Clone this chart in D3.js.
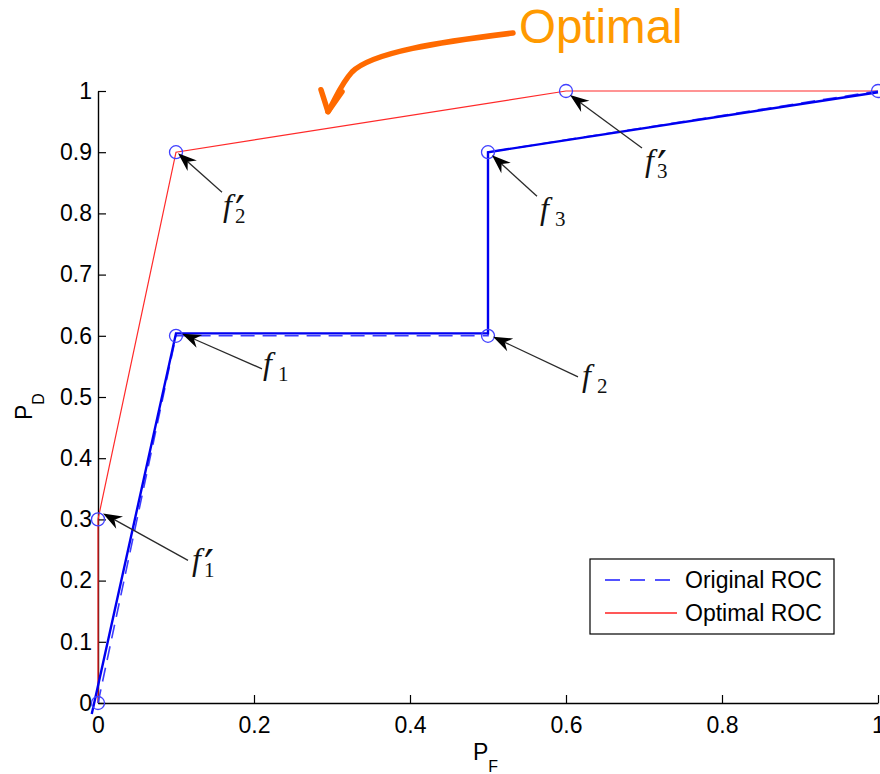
<!DOCTYPE html>
<html>
<head>
<meta charset="utf-8">
<script src="https://cdn.jsdelivr.net/npm/d3@7"></script>
<style>
  html, body { margin: 0; padding: 0; background: #fff; }
  svg { display: block; }
  text { font-family: "Liberation Sans", Arial, sans-serif; }
</style>
</head>
<body>
<svg id="chart" width="880" height="774"></svg>
<script>
// ---- data ----
const xTicks = [0, 0.2, 0.4, 0.6, 0.8, 1];
const yTicks = [0, 0.1, 0.2, 0.3, 0.4, 0.5, 0.6, 0.7, 0.8, 0.9, 1];
const xTickLabels = ["0", "0.2", "0.4", "0.6", "0.8", "1"];
const yTickLabels = ["0", "0.1", "0.2", "0.3", "0.4", "0.5", "0.6", "0.7", "0.8", "0.9", "1"];

// original ROC (dashed) and the traced original curve (solid blue)
const originalPF = [0, 0.1, 0.5, 0.5, 1];
const originalPD = [0, 0.6, 0.6, 0.9, 1];
const tracedPF = [-0.008, 0.1, 0.5, 0.5, 1];
const tracedPD = [-0.018, 0.604, 0.604, 0.9, 0.998];

// optimal ROC
const optimalPF = [0, 0, 0.1, 0.6, 1];
const optimalPD = [0, 0.3, 0.9, 1, 1];

// operating points (circles)
const pointPF = [0, 0, 0.1, 0.1, 0.5, 0.5, 0.6, 1];
const pointPD = [0, 0.3, 0.6, 0.9, 0.6, 0.9, 1, 1];

// labelled operating points
const labelNames = ["f", "f", "f", "f", "f", "f"];
const labelSubs = ["1", "1", "2", "2", "3", "3"];
const labelPrime = [true, false, false, true, false, true];
const labelPF = [0, 0.1, 0.5, 0.1, 0.5, 0.6];
const labelPD = [0.3, 0.6, 0.6, 0.9, 0.9, 1];

const legendLabels = ["Original ROC", "Optimal ROC"];

// ---- layout ----
const svg = d3.select("#chart");
const x = d3.scaleLinear().domain([0, 1]).range([98, 878]);
const y = d3.scaleLinear().domain([0, 1]).range([703, 91]);

const toPts = (xs, ys) => xs.map((v, i) => [v, ys[i]]);
const line = d3.line().x(d => x(d[0])).y(d => y(d[1]));

// ---- axes (ticks point inward, only left and bottom) ----
const xAxis = d3.axisBottom(x).tickValues(xTicks)
  .tickFormat((d, i) => xTickLabels[i]).tickSizeInner(-8).tickSizeOuter(0).tickPadding(14);
const yAxis = d3.axisLeft(y).tickValues(yTicks)
  .tickFormat((d, i) => yTickLabels[i]).tickSizeInner(-8).tickSizeOuter(0).tickPadding(14);

const gx = svg.append("g").attr("transform", `translate(0,${y(0)})`).call(xAxis);
const gy = svg.append("g").attr("transform", `translate(${x(0)},0)`).call(yAxis);
[gx, gy].forEach(g => {
  g.select(".domain").attr("stroke", "#000").attr("stroke-width", 1.4);
  g.selectAll(".tick line").attr("stroke", "#000").attr("stroke-width", 1.2);
  g.selectAll(".tick text").attr("fill", "#000")
    .style("font-family", "'Liberation Sans', Arial, sans-serif").style("font-size", "23px");
});
gx.selectAll(".tick text").attr("y", 14).attr("dy", "0.71em");
gy.selectAll(".tick text").attr("x", -6);

// ---- series ----
svg.append("path").datum(toPts(optimalPF, optimalPD))
  .attr("d", line).attr("fill", "none").attr("stroke", "#ff2a2a").attr("stroke-width", 1.2);

svg.append("path").datum(toPts(originalPF, originalPD))
  .attr("d", line).attr("fill", "none").attr("stroke", "#3b3bff")
  .attr("stroke-width", 1.6).attr("stroke-dasharray", "14,8");

svg.append("path").datum(toPts(tracedPF, tracedPD))
  .attr("d", line).attr("fill", "none").attr("stroke", "#0000f0").attr("stroke-width", 2.4);

svg.append("g").selectAll("circle").data(toPts(pointPF, pointPD)).join("circle")
  .attr("cx", d => x(d[0])).attr("cy", d => y(d[1])).attr("r", 6.5)
  .attr("fill", "none").attr("stroke", "#4040ff").attr("stroke-width", 1.3);

// ---- point annotations: notched black arrows with math labels ----
// offsets in pixels relative to each labelled point: arrow tip, arrow tail, label anchor
const annotOffsets = [
  { tip: [5, -6], tail: [90, 41], lab: [94, 51] },
  { tip: [6, -2], tail: [86, 33], lab: [87, 38] },
  { tip: [5, 1],  tail: [90, 41], lab: [94, 50] },
  { tip: [2, 1],  tail: [46, 40], lab: [47, 64] },
  { tip: [4, 3],  tail: [49, 44], lab: [52, 67] },
  { tip: [4, 4],  tail: [76, 57], lab: [79, 80] }
];

const ann = svg.append("g");
labelPF.forEach((pf, i) => {
  const px = x(pf), py = y(labelPD[i]);
  const o = annotOffsets[i];
  const tx = px + o.tip[0], ty = py + o.tip[1];
  const sx = px + o.tail[0], sy = py + o.tail[1];
  const ang = Math.atan2(ty - sy, tx - sx);
  const ux = Math.cos(ang), uy = Math.sin(ang);
  const nx = -uy, ny = ux;
  const L = 19, W = 7, N = 13;
  ann.append("line").attr("x1", sx).attr("y1", sy)
    .attr("x2", tx - ux * N).attr("y2", ty - uy * N)
    .attr("stroke", "#2a2a2a").attr("stroke-width", 1.3);
  const head = [
    [tx, ty],
    [tx - ux * L + nx * W, ty - uy * L + ny * W],
    [tx - ux * N, ty - uy * N],
    [tx - ux * L - nx * W, ty - uy * L - ny * W]
  ];
  ann.append("path").attr("d", "M" + head.map(p => p.join(",")).join("L") + "Z")
    .attr("fill", "#000");

  // label: italic f, optional prime, and a subscript stacked under the prime
  const lx = px + o.lab[0], ly = py + o.lab[1];
  const t = ann.append("text").attr("x", lx).attr("y", ly).attr("fill", "#111")
    .style("font-family", "'Liberation Serif', 'DejaVu Serif', serif");
  t.append("tspan").style("font-style", "italic").style("font-size", "32px").text(labelNames[i]);
  if (labelPrime[i]) {
    t.append("tspan").attr("x", lx + 12).attr("y", ly + 12)
      .style("font-family", "'DejaVu Sans', sans-serif").style("font-size", "44px")
      .text("\u2032");
  }
  t.append("tspan").attr("x", lx + (labelPrime[i] ? 12 : 15)).attr("y", ly + 7)
    .style("font-size", "21px").text(labelSubs[i]);
});

// ---- axis titles ----
const ttl = svg.append("g").style("font-size", "23px").attr("fill", "#000");
const xt = ttl.append("text").attr("x", 473).attr("y", 760);
xt.append("tspan").text("P");
xt.append("tspan").attr("dy", 12).style("font-size", "16px").text("F");

const yt = ttl.append("text").attr("transform", "translate(32,420) rotate(-90)");
yt.append("tspan").text("P");
yt.append("tspan").attr("dy", 12).style("font-size", "16px").text("D");

// ---- legend ----
const lg = svg.append("g");
lg.append("rect").attr("x", 590).attr("y", 559).attr("width", 244).attr("height", 75)
  .attr("fill", "#fff").attr("stroke", "#000").attr("stroke-width", 1.2);
const legStyles = [
  { stroke: "#1a1aff", dash: "15,10", w: 1.5 },
  { stroke: "#ff2020", dash: null, w: 1.5 }
];
legendLabels.forEach((t, i) => {
  const cy = 580 + i * 33;
  lg.append("line").attr("x1", 605).attr("x2", 677).attr("y1", cy).attr("y2", cy)
    .attr("stroke", legStyles[i].stroke).attr("stroke-width", legStyles[i].w)
    .attr("stroke-dasharray", legStyles[i].dash);
  lg.append("text").attr("x", 685).attr("y", cy).attr("dy", "0.35em")
    .style("font-size", "23px").attr("fill", "#000").text(t);
});

// ---- "Optimal" callout pointing at the optimal curve ----
const tipX = x(0.3) - 4, tipY = y(0.94) - 16;
const callout = svg.append("g");
callout.append("path")
  .attr("d", `M513,33 C440,42 372,52 352,72 C341,84 337,96 ${tipX},${tipY}`)
  .attr("fill", "none").attr("stroke", "#ff6a00").attr("stroke-width", 5.5)
  .attr("stroke-linecap", "round");
callout.append("path")
  .attr("d", `M${tipX - 7},${tipY - 22} L${tipX},${tipY} L${tipX + 14},${tipY - 20}`)
  .attr("fill", "none").attr("stroke", "#ff6a00").attr("stroke-width", 5.5)
  .attr("stroke-linecap", "round").attr("stroke-linejoin", "round");
callout.append("text").attr("x", 519).attr("y", 43)
  .style("font-size", "47.5px").attr("fill", "#ff9a00").text("Optimal");
</script>
</body>
</html>
